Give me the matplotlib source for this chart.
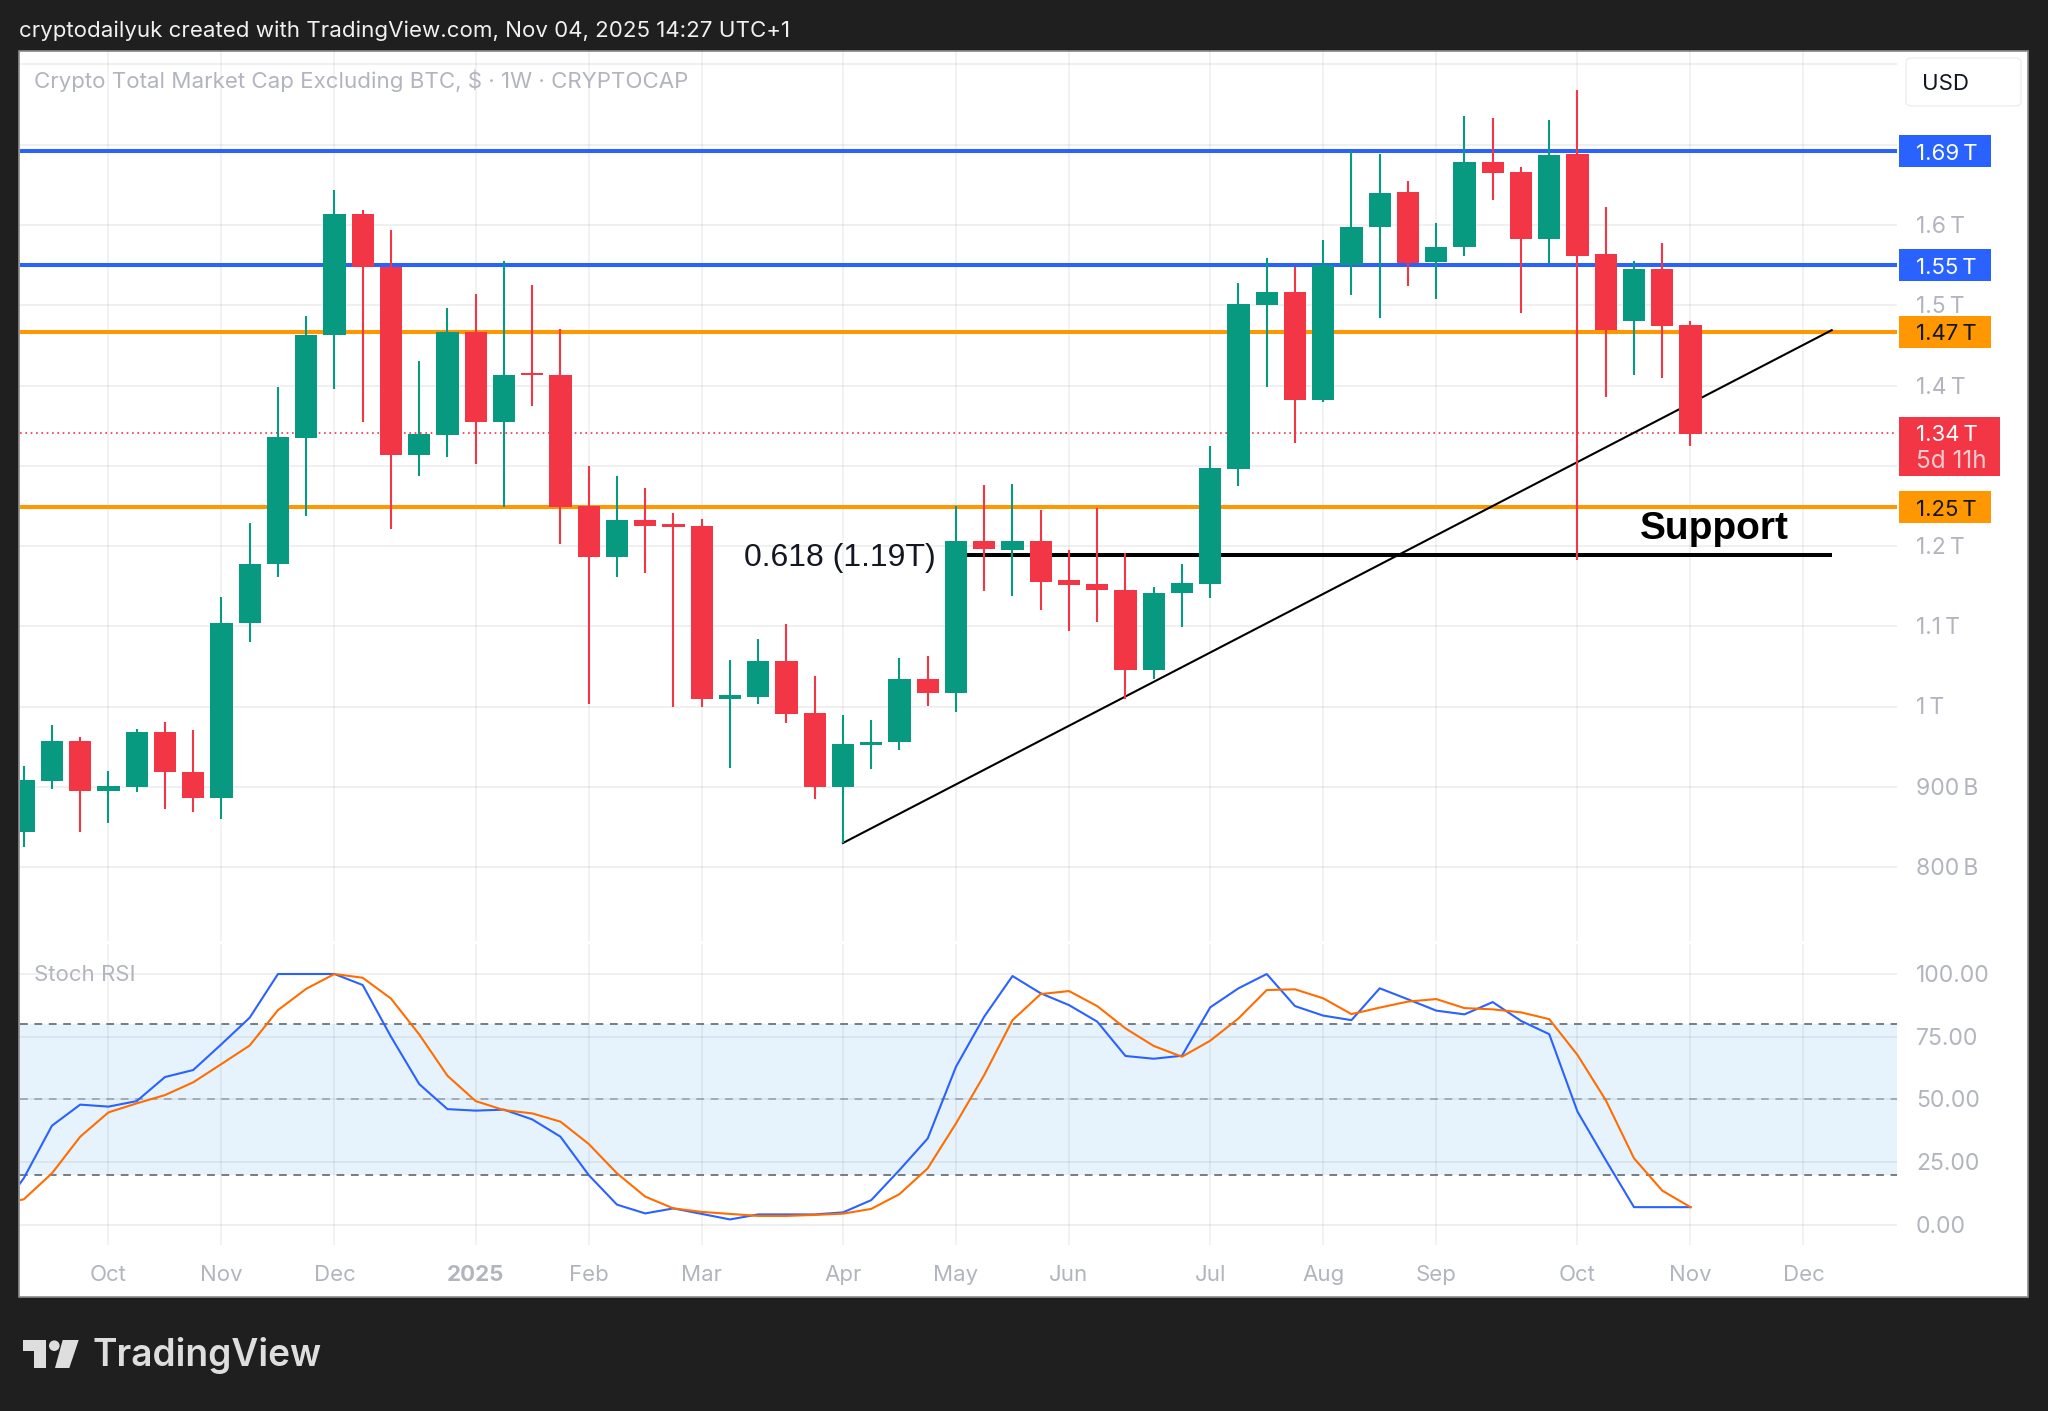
import matplotlib
matplotlib.use("Agg")
import matplotlib.pyplot as plt
from matplotlib.patches import Rectangle, Polygon, Ellipse, FancyBboxPatch

W, H = 2048, 1411

# weekly candles, trillions
opens = [0.844, 0.907, 0.957, 0.895, 0.900, 0.968, 0.918, 0.886, 1.104, 1.178,
         1.335, 1.463, 1.614, 1.548, 1.313, 1.338, 1.467, 1.354, 1.416, 1.413,
         1.250, 1.186, 1.232, 1.227, 1.225, 1.009, 1.012, 1.057, 0.992, 0.900,
         0.952, 0.956, 1.034, 1.017, 1.206, 1.195, 1.206, 1.158, 1.153, 1.145,
         1.045, 1.141, 1.153, 1.296, 1.500, 1.517, 1.382, 1.550, 1.598, 1.641,
         1.554, 1.573, 1.679, 1.666, 1.583, 1.688, 1.564, 1.480, 1.545, 1.475]
highs = [0.926, 0.977, 0.962, 0.920, 0.972, 0.981, 0.971, 1.137, 1.229, 1.398,
         1.487, 1.644, 1.619, 1.594, 1.431, 1.497, 1.514, 1.555, 1.525, 1.470,
         1.300, 1.287, 1.272, 1.241, 1.234, 1.058, 1.084, 1.103, 1.038, 0.989,
         0.983, 1.060, 1.063, 1.250, 1.276, 1.277, 1.245, 1.195, 1.247, 1.191,
         1.149, 1.178, 1.325, 1.528, 1.559, 1.548, 1.581, 1.692, 1.688, 1.655,
         1.603, 1.736, 1.733, 1.672, 1.731, 1.768, 1.622, 1.555, 1.578, 1.480]
lows = [0.825, 0.897, 0.844, 0.855, 0.894, 0.872, 0.869, 0.860, 1.080, 1.161,
        1.237, 1.396, 1.355, 1.221, 1.287, 1.311, 1.302, 1.249, 1.375, 1.203,
        1.003, 1.161, 1.166, 1.000, 1.000, 0.923, 1.003, 0.979, 0.885, 0.830,
        0.922, 0.946, 1.001, 0.993, 1.144, 1.138, 1.120, 1.094, 1.105, 1.009,
        1.034, 1.099, 1.135, 1.275, 1.398, 1.328, 1.379, 1.513, 1.484, 1.524,
        1.508, 1.561, 1.631, 1.490, 1.553, 1.183, 1.386, 1.413, 1.409, 1.325]
closes = [0.908, 0.957, 0.895, 0.901, 0.968, 0.918, 0.886, 1.104, 1.178, 1.336,
          1.463, 1.614, 1.548, 1.313, 1.340, 1.467, 1.355, 1.413, 1.413, 1.249,
          1.186, 1.232, 1.225, 1.224, 1.009, 1.014, 1.057, 0.991, 0.900, 0.953,
          0.956, 1.034, 1.017, 1.206, 1.196, 1.206, 1.155, 1.151, 1.145, 1.045,
          1.141, 1.154, 1.297, 1.501, 1.517, 1.382, 1.550, 1.598, 1.640, 1.553,
          1.573, 1.679, 1.665, 1.583, 1.687, 1.561, 1.469, 1.545, 1.474, 1.340]

# first value belongs to the week just off the left edge
stoch_k = [3.0, 18.5, 39.5, 47.9, 47.1, 49.3, 58.9, 61.7, 72.0, 82.6, 100, 100, 100,
           95.6, 75.0, 56.1, 46.1, 45.5, 45.9, 42.0, 35.1, 19.8, 8.0, 4.5, 6.5,
           4.3, 2.1, 4.1, 4.1, 4.1, 4.9, 9.8, 21.8, 34.4, 63.0, 83.0, 99.2,
           92.3, 87.6, 81.0, 67.3, 66.2, 67.4, 86.7, 94.3, 100, 87.2, 83.4, 81.6,
           94.3, 89.9, 85.4, 83.9, 88.8, 81.3, 76.0, 45.1, 25.8, 7.0, 7.0, 7.0]
stoch_d = [8.0, 10.1, 20.5, 35.1, 44.8, 48.4, 51.7, 56.8, 64.1, 71.5, 85.6, 94.1, 100,
           98.5, 90.2, 75.9, 59.4, 49.3, 45.7, 44.4, 41.1, 32.2, 20.5, 11.2, 6.5,
           5.1, 4.3, 3.5, 3.5, 3.9, 4.4, 6.3, 12.2, 22.5, 40.4, 59.7, 81.6,
           92.0, 93.2, 87.2, 78.3, 71.3, 67.0, 73.4, 82.3, 93.6, 93.9, 90.3, 84.0,
           86.6, 89.0, 90.0, 86.4, 85.9, 84.7, 82.0, 67.7, 49.7, 26.5, 13.6, 7.0]

month_pos = [3, 7, 11, 16, 20, 24, 29, 33, 37, 42, 46, 50, 55, 59, 63]
month_labels = ["Oct", "Nov", "Dec", "2025", "Feb", "Mar", "Apr", "May", "Jun",
                "Jul", "Aug", "Sep", "Oct", "Nov", "Dec"]
price_ticks = [1.8, 1.7, 1.6, 1.5, 1.4, 1.3, 1.2, 1.1, 1.0, 0.9, 0.8]
price_tick_labels = {1.6: "1.6\u2009T", 1.5: "1.5\u2009T", 1.4: "1.4\u2009T", 1.2: "1.2\u2009T",
                     1.1: "1.1\u2009T", 1.0: "1\u2009T", 0.9: "900\u2009B", 0.8: "800\u2009B"}
stoch_ticks = [100, 75, 50, 25, 0]

blue_levels = [1.692, 1.550]
orange_levels = [1.467, 1.249]
last_price = 1.341
fib_level = 1.189
fib_span = (33, 64)
trend_x = [29, 64]
trend_y = [0.830, 1.469]

GREEN = "#089981"
RED = "#f23645"
BLUE = "#2962ff"
ORANGE = "#ff9800"
GREY = "#b2b5be"
BG = "#1f1f1f"
GRID = (0, 0, 0, 0.065)
FONT = ["Inter", "DejaVu Sans"]


def px_axes(left, top, right, bottom):
    return fig.add_axes([left / W, 1 - bottom / H, (right - left) / W, (bottom - top) / H])


def label(x, y, s, **kw):
    kw.setdefault("family", FONT)
    kw.setdefault("va", "center")
    fig.text(x / W, 1 - (y + 2) / H, s, **kw)


def tag(y0, y1, x1, color):
    fig.add_artist(Rectangle((1899 / W, 1 - y1 / H), (x1 - 1899) / W, (y1 - y0) / H,
                             transform=fig.transFigure, facecolor=color, edgecolor="none"))


fig = plt.figure(figsize=(W / 100, H / 100), dpi=100, facecolor=BG)

# white panel behind everything
fig.add_artist(Rectangle((19 / W, 1 - 1297 / H), (2028 - 19) / W, (1297 - 51) / H,
                         transform=fig.transFigure, facecolor="white", edgecolor="#8a8a8a",
                         linewidth=1.2, zorder=-1))

xlim = (-0.149, 66.31)

# price pane
ax = px_axes(19.5, 51, 1897, 941)
ax.set_xlim(xlim)
ax.set_ylim(0.7079, 1.8168)
ax.axis("off")
ax.hlines(price_ticks, *xlim, color=GRID, linewidth=1.3, zorder=1)
ax.vlines(month_pos, 0.7079, 1.8168, color=GRID, linewidth=1.1, zorder=1)
ax.hlines(blue_levels, *xlim, color=BLUE, linewidth=2.9, zorder=2)
ax.hlines(orange_levels, *xlim, color=ORANGE, linewidth=2.9, zorder=2)
ax.hlines(last_price, *xlim, color=RED, linewidth=1.2, linestyles=(0, (1, 2.2)), zorder=2)
ax.hlines(fib_level, *fib_span, color="black", linewidth=2.9, zorder=2)
ax.plot(trend_x, trend_y, color="black", linewidth=1.5, zorder=2)

idx = list(range(len(opens)))
colors = [GREEN if c >= o else RED for o, c in zip(opens, closes)]
ax.vlines(idx, lows, highs, color=colors, linewidth=1.5, zorder=3)
bottoms = [min(o, c) for o, c in zip(opens, closes)]
heights = [abs(o - c) for o, c in zip(opens, closes)]
ax.bar(idx, heights, width=0.79, bottom=bottoms, color=colors, zorder=4)

ax.text(32.3, 1.185, "0.618 (1.19T)", family="Liberation Sans", fontsize=23, color="#131722",
        ha="right", va="center", zorder=5)
ax.text(59.84, 1.221, "Support", family="Liberation Sans", fontsize=28, fontweight="bold", color="black",
        ha="center", va="center", zorder=5)

# stoch pane
ax2 = px_axes(19.5, 944, 1897, 1245)
ax2.set_xlim(xlim)
ax2.set_ylim(-8.1, 111.97)
ax2.axis("off")
ax2.axhspan(20, 80, color="#2196f3", alpha=0.11, linewidth=0, zorder=1)
ax2.hlines(stoch_ticks, *xlim, color=GRID, linewidth=1.3, zorder=2)
ax2.vlines(month_pos, -8.1, 111.97, color=GRID, linewidth=1.1, zorder=2)
ax2.hlines([80, 20], *xlim, color="#787b86", linewidth=1.4, linestyles=(0, (4, 3.4)), zorder=3)
ax2.hlines(50, *xlim, color="#787b86", alpha=0.55, linewidth=1.4, linestyles=(0, (4, 3.4)), zorder=3)
stoch_x = list(range(-1, len(opens)))
ax2.plot(stoch_x, stoch_k, color="#2962ff", linewidth=1.5, zorder=4)
ax2.plot(stoch_x, stoch_d, color="#ff6d00", linewidth=1.5, zorder=5)

# x labels
for pos, name in zip(month_pos, month_labels):
    x = 23.7 + 28.25 * pos
    label(x, 1273, name, color=GREY, fontsize=16, ha="center",
          fontweight="bold" if name == "2025" else "normal")

# right scale
for v, s in price_tick_labels.items():
    label(1916, 225 + (1.6 - v) * 802.5, s, color=GREY, fontsize=16.5)
for v in stoch_ticks:
    label(1916, 1224.7 - v * 2.507, f"{v:.2f}", color=GREY, fontsize=16.5)

tag(135, 167, 1991, BLUE)
tag(249, 281, 1991, BLUE)
tag(316, 348, 1991, ORANGE)
tag(491, 523, 1991, ORANGE)
tag(417, 476, 2000, RED)
label(1916, 152, "1.69\u2009T", color="white", fontsize=16)
label(1916, 266, "1.55\u2009T", color="white", fontsize=16)
label(1916, 332.5, "1.47\u2009T", color="#131722", fontsize=16)
label(1916, 507.5, "1.25\u2009T", color="#131722", fontsize=16)
label(1916, 433, "1.34\u2009T", color="white", fontsize=16)
label(1916, 459, "5d 11h", color="#ffffff", alpha=0.75, fontsize=17.5)

# currency button
fig.add_artist(FancyBboxPatch((1906 / W, 1 - 106 / H), 115 / W, 48 / H, boxstyle="round,pad=0,rounding_size=0.003",
                              transform=fig.transFigure, facecolor="white", edgecolor="#eeeeee", linewidth=1))
label(1945, 82.5, "USD", color="#131722", fontsize=16, ha="center")

# titles
label(34, 79, "Crypto Total Market Cap Excluding BTC, $ \u00b7 1W \u00b7 CRYPTOCAP", color=GREY, fontsize=16.05)
label(34, 973, "Stoch RSI", color=GREY, fontsize=16)
label(19, 29, "cryptodailyuk created with TradingView.com, Nov 04, 2025 14:27 UTC+1", color="#f0f0f0", fontsize=16.05)

# logo
LOGO = "#dedede"
fig.add_artist(Polygon([(23 / W, 1 - 1340 / H), (45.5 / W, 1 - 1340 / H), (45.5 / W, 1 - 1368 / H), (33.5 / W, 1 - 1368 / H),
                        (33.5 / W, 1 - 1351 / H), (23 / W, 1 - 1351 / H)], transform=fig.transFigure, facecolor=LOGO, edgecolor="none"))
fig.add_artist(Ellipse((54.3 / W, 1 - 1345.7 / H), 10.6 / W, 10.6 / H, transform=fig.transFigure, facecolor=LOGO, edgecolor="none"))
fig.add_artist(Polygon([(62.7 / W, 1 - 1340 / H), (78.7 / W, 1 - 1340 / H), (69.3 / W, 1 - 1368 / H), (55 / W, 1 - 1368 / H)],
                       transform=fig.transFigure, facecolor=LOGO, edgecolor="none"))
label(92, 1354, "TradingView", color=LOGO, fontsize=26.7, fontweight="semibold")

fig.savefig("out.png", dpi=100, facecolor=BG)
